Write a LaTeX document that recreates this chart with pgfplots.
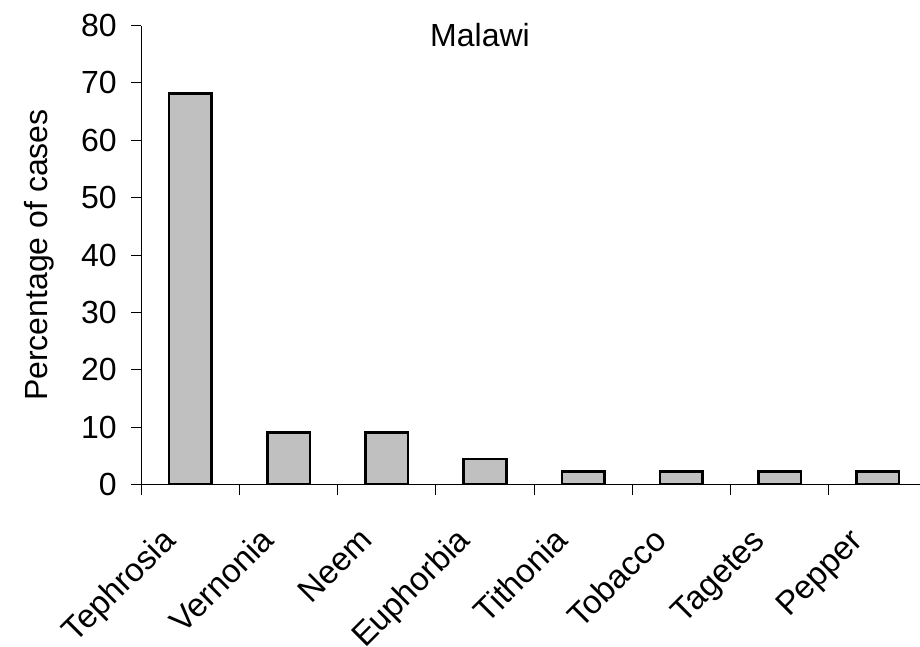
\documentclass[border=0pt]{standalone}
\usepackage{fontspec}
\setmainfont{Liberation Sans}
\usepackage{pgfplots}
\pgfplotsset{compat=1.18}
\definecolor{barfill}{RGB}{192,192,192}
\begin{document}
\begin{tikzpicture}
\path[use as bounding box] (0,0) rectangle (460pt,323.5pt);
\begin{axis}[
  at={(70.65pt,81.15pt)}, anchor=south west,
  scale only axis, width=389.35pt, height=229.6pt,
  xmin=-0.5, xmax=7.43, ymin=0, ymax=80,
  axis x line*=bottom, axis y line*=left,
  axis line style={black, line width=0.5pt},
  ytick={0,10,...,80},
  yticklabel style={xshift=-3.5pt},
  tick align=outside, major tick length=5.25pt,
  tick style={black, line width=0.5pt},
  xtick={-0.5,0.5,...,6.5}, xticklabels={},
  extra x ticks={0,1,2,3,4,5,6,7},
  extra x tick labels={Tephrosia,Vernonia,Neem,Euphorbia,Tithonia,Tobacco,Tagetes,Pepper},
  extra x tick style={major tick length=0pt,
    tick label style={xshift=-6.5pt, yshift=-28.7pt, rotate=45, anchor=base east,
      inner sep=0pt, font=\fontsize{16.5}{19.8}\selectfont}},
  font=\fontsize{16}{19.2}\selectfont,
  /pgf/number format/assume math mode=true,
  ylabel={Percentage of cases},
  ylabel style={at={(axis description cs:-0.1211,0.5)}, anchor=base},
  title={Malawi},
  every axis title shift=0pt,
  title style={at={(axis description cs:0.435,0.954)}, anchor=base},
]
\addplot[ybar, bar width=0.434, fill=barfill, draw=black, line width=1.3pt]
  coordinates {(0,68.2) (1,9.1) (2,9.1) (3,4.5) (4,2.3) (5,2.3) (6,2.3) (7,2.3)};
\end{axis}
\end{tikzpicture}
\end{document}
